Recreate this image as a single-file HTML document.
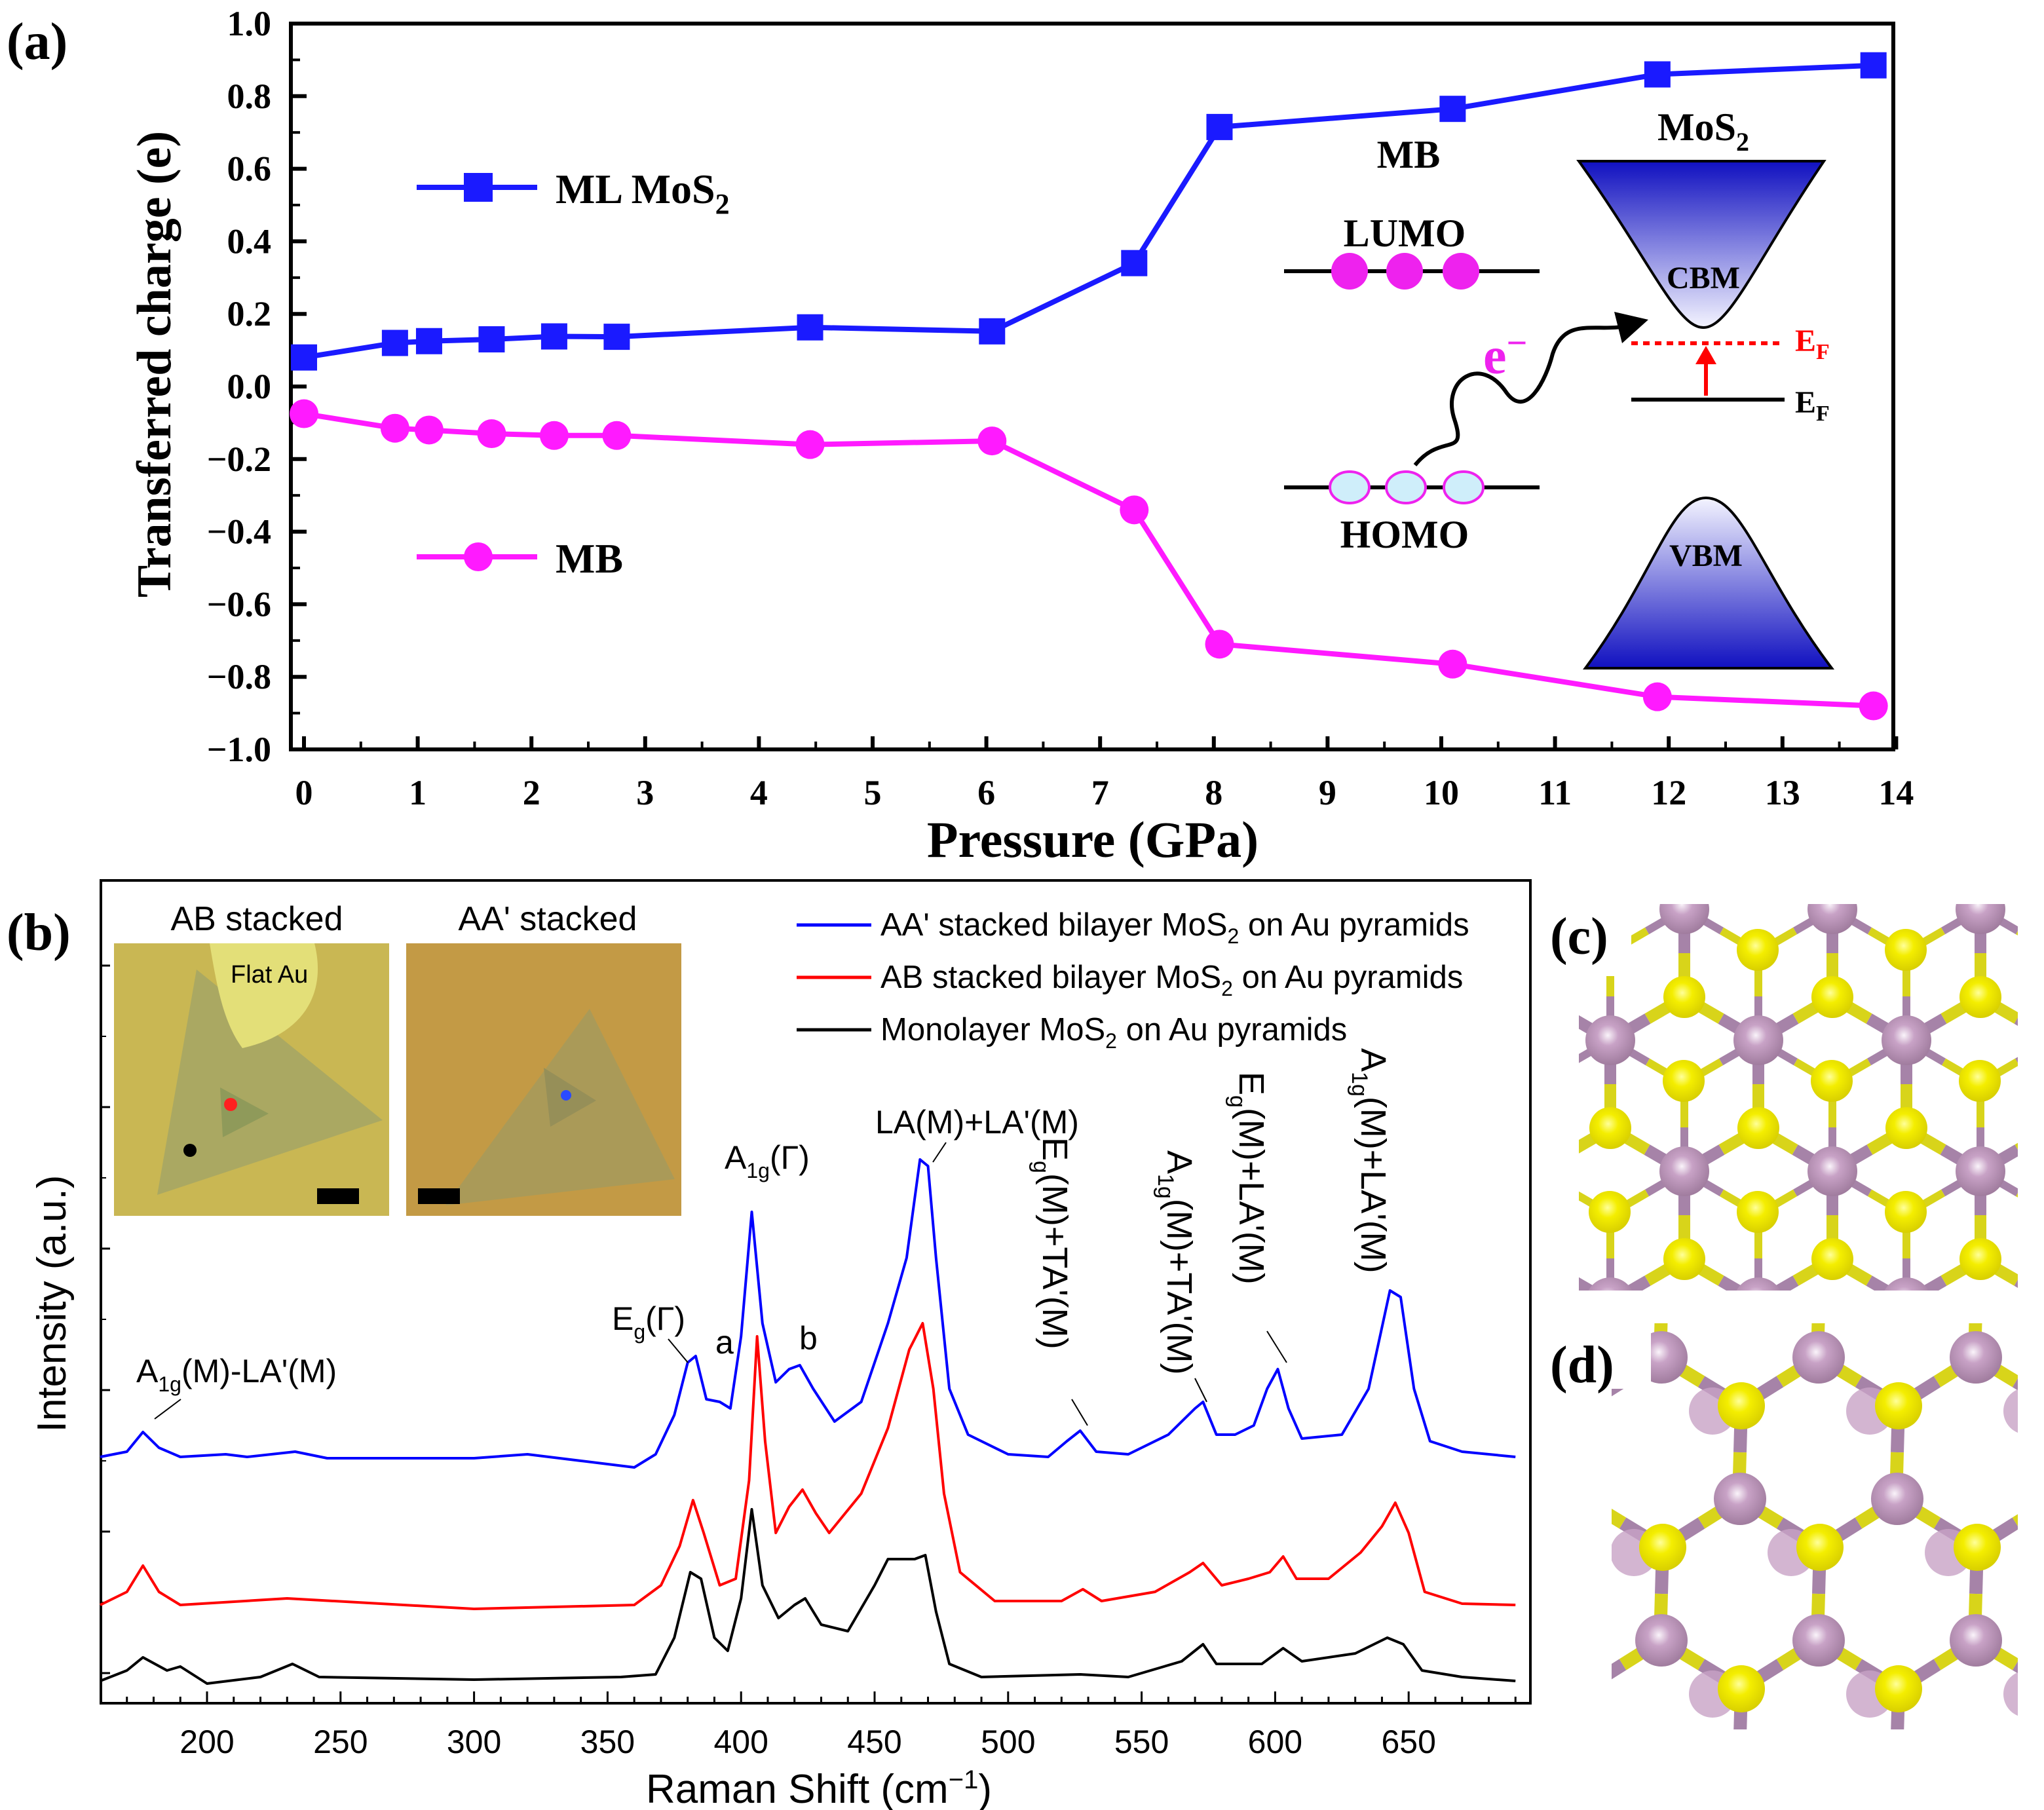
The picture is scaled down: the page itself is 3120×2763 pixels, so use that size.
<!DOCTYPE html>
<html><head><meta charset="utf-8"><style>
html,body{margin:0;padding:0;background:#fff;overflow:hidden;width:3120px;height:2763px}
svg{display:block}
.s{font-family:"Liberation Serif",serif;font-weight:bold}
.a{font-family:"Liberation Sans",sans-serif}
</style></head><body>
<svg id="fig" width="3120" height="2763" viewBox="0 0 1560 1381.5" xmlns="http://www.w3.org/2000/svg">
<rect width="1560" height="1381.5" fill="#fff"/>
<g id="pa">
<text class="s" x="5" y="45" font-size="40">(a)</text>
<rect x="222" y="18" width="1223" height="554" fill="none" stroke="#000" stroke-width="3"/>
<g id="aTicks"></g>
<text class="s" x="834" y="654" font-size="39" text-anchor="middle">Pressure (GPa)</text>
<text class="s" transform="translate(130,278) rotate(-90)" font-size="37" text-anchor="middle">Transferred charge (e)</text>
<g id="aSeries"></g>
<g>
<line x1="318" y1="143" x2="410" y2="143" stroke="#1a1aff" stroke-width="4"/><rect x="354" y="132" width="22" height="22" fill="#1a1aff"/>
<text class="s" x="424" y="155" font-size="32">ML MoS<tspan font-size="22" dy="8">2</tspan></text></g>
<g>
<line x1="318" y1="425" x2="410" y2="425" stroke="#ff1aff" stroke-width="4"/><circle cx="365" cy="425" r="11" fill="#ff1aff"/>
<text class="s" x="424" y="437" font-size="32">MB</text></g>
<g>
<text class="s" x="1075" y="128" font-size="30" text-anchor="middle">MB</text>
<text class="s" x="1300" y="107" font-size="30" text-anchor="middle">MoS<tspan font-size="20" dy="8">2</tspan></text>
<text class="s" x="1072" y="188" font-size="30" text-anchor="middle">LUMO</text>
<line x1="980" y1="207" x2="1175" y2="207" stroke="#000" stroke-width="3"/>
<circle cx="1030" cy="207" r="14" fill="#ee22ee"/><circle cx="1072" cy="207" r="14" fill="#ee22ee"/><circle cx="1115" cy="207" r="14" fill="#ee22ee"/>
<line x1="980" y1="372" x2="1175" y2="372" stroke="#000" stroke-width="3"/>
<ellipse cx="1030" cy="372" rx="15" ry="12" fill="#cfeefa" stroke="#ee22ee" stroke-width="2"/><ellipse cx="1073" cy="372" rx="15" ry="12" fill="#cfeefa" stroke="#ee22ee" stroke-width="2"/><ellipse cx="1117" cy="372" rx="15" ry="12" fill="#cfeefa" stroke="#ee22ee" stroke-width="2"/>
<text class="s" x="1072" y="418" font-size="30" text-anchor="middle">HOMO</text>
<defs><linearGradient id="gc" x1="0" y1="0" x2="0" y2="1"><stop offset="0" stop-color="#1010c0"/><stop offset="1" stop-color="#f4f4ff"/></linearGradient>
<linearGradient id="gv" x1="0" y1="1" x2="0" y2="0"><stop offset="0" stop-color="#1010c0"/><stop offset="1" stop-color="#f4f4ff"/></linearGradient>
<radialGradient id="gmo" cx="0.45" cy="0.4" r="0.6"><stop offset="0" stop-color="#faf4fa"/><stop offset="0.35" stop-color="#c8a2c6"/><stop offset="1" stop-color="#a07c9e"/></radialGradient>
<radialGradient id="gs" cx="0.45" cy="0.4" r="0.6"><stop offset="0" stop-color="#ffff9a"/><stop offset="0.4" stop-color="#f4ee00"/><stop offset="1" stop-color="#d8cf00"/></radialGradient></defs>
<path d="M1205,123 L1392,123 C1340,200 1320,250 1300,250 C1280,250 1260,200 1205,123Z" fill="url(#gc)" stroke="#000" stroke-width="2"/>
<text class="s" x="1300" y="220" font-size="24" text-anchor="middle">CBM</text>
<path d="M1210,510 L1398,510 C1345,440 1330,380 1302,380 C1275,380 1262,440 1210,510Z" fill="url(#gv)" stroke="#000" stroke-width="2"/>
<text class="s" x="1302" y="432" font-size="24" text-anchor="middle">VBM</text>
<line x1="1245" y1="262" x2="1362" y2="262" stroke="#ff0000" stroke-width="3" stroke-dasharray="5,4"/>
<text class="s" x="1370" y="268" font-size="24" fill="#ff0000">E<tspan font-size="17" dy="6">F</tspan></text>
<line x1="1245" y1="305" x2="1362" y2="305" stroke="#000" stroke-width="3"/>
<text class="s" x="1370" y="315" font-size="24">E<tspan font-size="17" dy="6">F</tspan></text>
<line x1="1302" y1="302" x2="1302" y2="275" stroke="#ff0000" stroke-width="3"/><path d="M1294,278 L1302,264 L1310,278Z" fill="#ff0000"/>
<text class="s" x="1132" y="285" font-size="40" fill="#ee22ee">e<tspan font-size="28" dy="-14">−</tspan></text>
<path d="M1080,355 C1100,330 1120,350 1110,320 C1100,290 1130,270 1150,300 C1165,320 1180,290 1185,270 C1195,240 1220,255 1245,248" fill="none" stroke="#000" stroke-width="3"/>
<path d="M1232,238 L1258,244 L1238,262Z" fill="#000"/>
</g>
</g>
<g id="pb">
<text class="s" x="5" y="725" font-size="40">(b)</text>
<rect x="77" y="672" width="1091" height="628" fill="none" stroke="#000" stroke-width="2"/>
<g id="bTicks"></g>
<text class="a" x="625" y="1376" font-size="31" text-anchor="middle">Raman Shift (cm<tspan font-size="20" dy="-11">−1</tspan><tspan dy="11">)</tspan></text>
<text class="a" transform="translate(50,995) rotate(-90)" font-size="31" text-anchor="middle">Intensity (a.u.)</text>
<g>
<text class="a" x="196" y="710" font-size="26" text-anchor="middle">AB stacked</text>
<rect x="87" y="720" width="210" height="208" fill="#c9b753"/>
<path d="M120,912 L150,740 L292,855Z" fill="#aaa862"/>
<path d="M168,830 L170,868 L205,850Z" fill="#8f9a5a"/>
<path d="M160,720 L240,720 C250,760 230,790 185,800 C170,780 165,750 160,720Z" fill="#e3df78"/>
<text class="a" x="176" y="750" font-size="19">Flat Au</text>
<circle cx="176" cy="843" r="5" fill="#ff2020"/><circle cx="145" cy="878" r="5" fill="#000"/>
<rect x="242" y="907" width="32" height="12" fill="#000"/></g>
<g>
<text class="a" x="418" y="710" font-size="26" text-anchor="middle">AA' stacked</text>
<rect x="310" y="720" width="210" height="208" fill="#c39a45"/>
<path d="M340,920 L450,770 L515,900Z" fill="#aa9a58"/>
<path d="M415,815 L420,860 L455,840Z" fill="#968f58"/>
<circle cx="432" cy="836" r="4" fill="#2a4aff"/>
<rect x="319" y="907" width="32" height="12" fill="#000"/></g>
<g>
<line x1="608" y1="706" x2="665" y2="706" stroke="#0000ff" stroke-width="2.5"/><text class="a" x="672" y="714" font-size="24.5">AA' stacked bilayer MoS<tspan font-size="16" dy="6">2</tspan><tspan dy="-6"> on Au pyramids</tspan></text>
<line x1="608" y1="746" x2="665" y2="746" stroke="#ff0000" stroke-width="2.5"/><text class="a" x="672" y="754" font-size="24.5">AB stacked  bilayer MoS<tspan font-size="16" dy="6">2</tspan><tspan dy="-6"> on Au pyramids</tspan></text>
<line x1="608" y1="786" x2="665" y2="786" stroke="#000" stroke-width="2.5"/><text class="a" x="672" y="794" font-size="24.5">Monolayer MoS<tspan font-size="16" dy="6">2</tspan><tspan dy="-6"> on Au pyramids</tspan></text>
</g>
<g id="bSeries"></g>
<g class="a" font-size="25">
<text x="104" y="1055">A<tspan font-size="16" dy="7">1g</tspan><tspan dy="-7">(M)-LA'(M)</tspan></text>
<line x1="138" y1="1068" x2="118" y2="1083" stroke="#000"/>
<text x="467" y="1015">E<tspan font-size="16" dy="7">g</tspan><tspan dy="-7">(Γ)</tspan></text>
<line x1="510" y1="1022" x2="525" y2="1040" stroke="#000"/>
<text x="546" y="1033">a</text><text x="610" y="1030">b</text>
<text x="553" y="892">A<tspan font-size="16" dy="7">1g</tspan><tspan dy="-7">(Γ)</tspan></text>
<text x="668" y="865">LA(M)+LA'(M)</text>
<line x1="722" y1="872" x2="712" y2="887" stroke="#000"/>
<text transform="translate(796,868) rotate(90)" font-size="27">E<tspan font-size="17" dy="7">g</tspan><tspan dy="-7">(M)+TA'(M)</tspan></text>
<line x1="818" y1="1068" x2="830" y2="1088" stroke="#000"/>
<text transform="translate(891,878) rotate(90)" font-size="27">A<tspan font-size="17" dy="7">1g</tspan><tspan dy="-7">(M)+TA'(M)</tspan></text>
<line x1="912" y1="1052" x2="921" y2="1070" stroke="#000"/>
<text transform="translate(946,818) rotate(90)" font-size="27">E<tspan font-size="17" dy="7">g</tspan><tspan dy="-7">(M)+LA'(M)</tspan></text>
<line x1="967" y1="1016" x2="982" y2="1040" stroke="#000"/>
<text transform="translate(1039,800) rotate(90)" font-size="27">A<tspan font-size="17" dy="7">1g</tspan><tspan dy="-7">(M)+LA'(M)</tspan></text>
</g>
</g>
<g id="pc"></g>
<g id="pd"></g>
<text class="s" x="1183" y="728" font-size="40">(c)</text>
<text class="s" x="1183" y="1055" font-size="40">(d)</text>
</svg>
<script>
const NS="http://www.w3.org/2000/svg";
// Panel (a) data
const pressure=[0,0.8,1.1,1.65,2.2,2.75,4.45,6.05,7.3,8.05,10.1,11.9,13.8];
const chargeMoS2=[0.08,0.12,0.125,0.13,0.138,0.137,0.163,0.152,0.34,0.715,0.765,0.86,0.885];
const chargeMB=[-0.075,-0.115,-0.12,-0.13,-0.135,-0.135,-0.16,-0.15,-0.34,-0.71,-0.765,-0.855,-0.88];
const aXTicks=[0,1,2,3,4,5,6,7,8,9,10,11,12,13,14];
const aYTicks=["1.0","0.8","0.6","0.4","0.2","0.0","−0.2","−0.4","−0.6","−0.8","−1.0"];
// Panel (b) data: [Raman shift, intensity (a.u., offset included)]
const ramanBlue=[[160,188],[170,192],[176,207],[182,195],[190,188],[207,190],[215,188],[233,192],[245,187],[300,187],[320,190],[340,185],[360,180],[368,190],[375,220],[380,260],[383,265],[387,232],[392,230],[396,225],[400,280],[404,375],[408,290],[413,245],[418,255],[422,258],[427,240],[435,215],[445,230],[455,290],[462,340],[467,415],[470,410],[473,340],[478,240],[485,205],[500,190],[515,188],[522,200],[527,208],[533,192],[545,190],[560,205],[570,225],[573,230],[578,205],[585,205],[592,212],[597,240],[601,255],[605,225],[610,202],[625,205],[635,240],[643,315],[647,310],[652,240],[658,200],[670,192],[690,188]];
const ramanRed=[[160,75],[170,85],[176,105],[182,85],[190,75],[230,80],[300,72],[360,75],[370,90],[377,120],[382,155],[386,130],[392,90],[398,95],[403,170],[406,280],[409,200],[413,130],[418,150],[423,163],[428,145],[433,130],[445,160],[455,210],[463,270],[468,290],[472,240],[476,160],[482,100],[495,78],[520,78],[528,87],[535,78],[555,85],[568,100],[573,107],[580,90],[590,95],[598,100],[603,112],[608,95],[620,95],[632,115],[640,135],[645,153],[650,130],[656,85],[670,76],[690,75]];
const ramanBlack=[[160,17],[170,25],[176,35],[185,25],[190,28],[200,15],[220,20],[232,30],[242,20],[300,18],[355,20],[368,22],[375,50],[381,100],[385,95],[390,50],[395,40],[400,80],[404,148],[408,90],[414,65],[420,75],[424,80],[430,60],[440,55],[450,90],[455,110],[465,110],[469,113],[473,70],[478,30],[490,20],[527,22],[545,20],[565,32],[573,45],[578,30],[595,30],[603,42],[610,32],[630,38],[642,50],[648,45],[655,25],[670,20],[690,17]];
const bXTicks=[200,250,300,350,400,450,500,550,600,650];

function el(tag,attrs,parent){const e=document.createElementNS(NS,tag);for(const k in attrs)e.setAttribute(k,attrs[k]);parent.appendChild(e);return e;}
const ax=p=>232+p*86.8, ay=v=>295-v*277;
const bx=s=>158+(s-200)*2.038, by=v=>1300-v;

const aT=document.getElementById('aTicks');
aXTicks.forEach(t=>{el('line',{x1:ax(t),y1:572,x2:ax(t),y2:562,stroke:'#000','stroke-width':3},aT);
 const tx=el('text',{x:ax(t),y:614,'font-size':27,'text-anchor':'middle',class:'s'},aT);tx.textContent=t;
 
 
 if(t<14)el('line',{x1:ax(t+0.5),y1:572,x2:ax(t+0.5),y2:566,stroke:'#000','stroke-width':2},aT);});
aYTicks.forEach((t,i)=>{const v=1-0.2*i;el('line',{x1:222,y1:ay(v),x2:234,y2:ay(v),stroke:'#000','stroke-width':3},aT);
 const tx=el('text',{x:207,y:ay(v)+9,'font-size':27,'text-anchor':'end',class:'s'},aT);tx.textContent=t;
 
 
 if(i<10)el('line',{x1:222,y1:ay(v-0.1),x2:229,y2:ay(v-0.1),stroke:'#000','stroke-width':2},aT);});

const aS=document.getElementById('aSeries');
function series(vals,color,shape,name){
 const g=el('g',{},aS);
 
 
 el('polyline',{points:pressure.map((p,i)=>ax(p)+','+ay(vals[i])).join(' '),fill:'none',stroke:color,'stroke-width':4},g);
 pressure.forEach((p,i)=>{let m;
  if(shape==='sq')m=el('rect',{x:ax(p)-10,y:ay(vals[i])-10,width:20,height:20,fill:color},g);
  else m=el('circle',{cx:ax(p),cy:ay(vals[i]),r:11,fill:color},g);
  
  });
}
series(chargeMoS2,'#1a1aff','sq','series-ml-mos2');
series(chargeMB,'#ff1aff','ci','series-mb');

const bT=document.getElementById('bTicks');
for(let s=170;s<=690;s+=10){const major=s%50===0;el('line',{x1:bx(s),y1:1300,x2:bx(s),y2:major?1291:1295,stroke:'#000','stroke-width':1.5},bT);}
bXTicks.forEach(t=>{const tx=el('text',{x:bx(t),y:1338,'font-size':25,'text-anchor':'middle',class:'a'},bT);tx.textContent=t;
 
 });
for(let y=737;y<1300;y+=108){el('line',{x1:77,y1:y,x2:84,y2:y,stroke:'#000','stroke-width':1.5},bT);}
for(let y=791;y<1300;y+=108){el('line',{x1:77,y1:y,x2:81,y2:y,stroke:'#000','stroke-width':1},bT);}

const bS=document.getElementById('bSeries');
function spec(data,color,name){const p=el('polyline',{points:data.map(d=>bx(d[0])+','+by(d[1])).join(' '),fill:'none',stroke:color,'stroke-width':2,'stroke-linejoin':'round'},bS);
 
 }
spec(ramanBlack,'#000','spectrum-monolayer');
spec(ramanRed,'#ff0000','spectrum-ab-bilayer');
spec(ramanBlue,'#0000ff','spectrum-aa-bilayer');

function bond(g,x1,y1,x2,y2,w){
 const mx=(x1+x2)/2,my=(y1+y2)/2;
 el('line',{x1:x1,y1:y1,x2:mx,y2:my,stroke:'#a683a8','stroke-width':w},g);
 el('line',{x1:mx,y1:my,x2:x2,y2:y2,stroke:'#d8d41a','stroke-width':w},g);
}
(function(){
 const g=document.getElementById('pc');
 const cp=el('clipPath',{id:'pcc'},g);el('path',{d:'M1245,690 L1540,690 L1540,985 L1205,985 L1205,745 L1245,745Z'},cp);
 const inner=el('g',{'clip-path':'url(#pcc)'},g);
 const a=113,h=100,ox=1229,oy=794;
 const mo=[],sB=[],sC=[];
 for(let r=-2;r<4;r++)for(let c=-2;c<5;c++){
  const x=ox+c*a+r*a/2-Math.floor(r/2)*a, y=oy+r*h;
  mo.push([x,y]);sB.push([x,y+67]);sC.push([x+56,y+31]);
 }
 mo.forEach(([x,y])=>{[[0,67],[-57,-33],[57,-33]].forEach(([dx,dy])=>bond(inner,x,y,x+dx,y+dy,9));
   [[0,-67],[-57,33],[57,33]].forEach(([dx,dy])=>bond(inner,x,y,x+dx,y+dy,6));});
 mo.forEach(([x,y])=>el('circle',{cx:x,cy:y,r:19,fill:'url(#gmo)'},inner));
 sB.concat(sC).forEach(([x,y])=>el('circle',{cx:x,cy:y,r:16,fill:'url(#gs)'},inner));
})();
(function(){
 const g=document.getElementById('pd');
 const cp=el('clipPath',{id:'pdc'},g);el('path',{d:'M1260,1010 L1540,1010 L1540,1320 L1230,1320 L1230,1060 L1260,1060Z'},cp);
 const inner=el('g',{'clip-path':'url(#pdc)'},g);
 const a=120,h=108,ox=1268,oy=1036;
 const mo=[],s=[];
 for(let r=-2;r<5;r++)for(let c=-2;c<5;c++){
  const x=ox+c*a+r*60-Math.floor(r/2)*a, y=oy+r*h;
  mo.push([x,y]);s.push([x+61,y+37]);
 }
 s.forEach(([x,y])=>{[[-61,-37],[59,-37],[-2,71]].forEach(([dx,dy])=>bond(inner,x,y,x+dx,y+dy,10));});
 s.forEach(([x,y])=>el('circle',{cx:x-22,cy:y+4,r:18,fill:'#c8a3c6',opacity:0.8},inner));
 mo.forEach(([x,y])=>el('circle',{cx:x,cy:y,r:20,fill:'url(#gmo)'},inner));
 s.forEach(([x,y])=>el('circle',{cx:x,cy:y,r:18,fill:'url(#gs)'},inner));
})();
</script>
</body></html>
